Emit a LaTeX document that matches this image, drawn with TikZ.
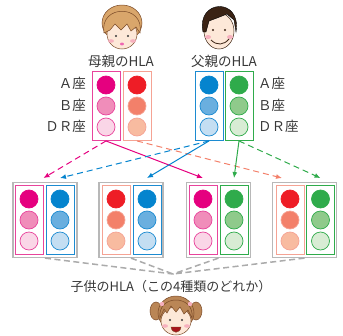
\documentclass[tikz,border=0pt]{standalone}
\usepackage{fontspec}
\setmainfont{Noto Sans CJK JP}
\usetikzlibrary{arrows.meta}

\definecolor{txt}{HTML}{383838}
\definecolor{pka}{HTML}{E5007F}
\definecolor{pkb}{HTML}{F08DBA}
\definecolor{pkdr}{HTML}{FAD6E7}
\definecolor{pkline}{HTML}{E8449C}
\definecolor{sma}{HTML}{EE1D26}
\definecolor{smb}{HTML}{F3806A}
\definecolor{smdr}{HTML}{F8BBA0}
\definecolor{smline}{HTML}{F5A394}
\definecolor{bua}{HTML}{0584CE}
\definecolor{bub}{HTML}{6AAFDF}
\definecolor{budr}{HTML}{C4DEF2}
\definecolor{buline}{HTML}{1C8BD1}
\definecolor{gra}{HTML}{2FAB4B}
\definecolor{grb}{HTML}{8FCA8B}
\definecolor{grdr}{HTML}{D8ECD4}
\definecolor{grline}{HTML}{2FAB4B}
\definecolor{skin}{HTML}{FDE8D8}
\definecolor{edge}{HTML}{7A4A28}
\definecolor{hairmom}{HTML}{D9A66B}
\definecolor{hairdad}{HTML}{3B2314}
\definecolor{hairkid}{HTML}{BA8656}
\definecolor{cheek}{HTML}{F6B0BE}

% one column of alleles: name, x, y, frame colour, colour prefix
\newcommand{\hlacol}[5]{%
	\node[col, draw=#4] (#1) at (#2,#3) {};
	\node[dot, fill=#5a, draw=#5a] (#1-a) at (#2,#3-21) {};
	\node[dot, fill=#5b, draw=#5line] (#1-b) at (#2,#3) {};
	\node[dot, fill=#5dr, draw=#5line] (#1-dr) at (#2,#3+21) {};
}

\begin{document}
\begin{tikzpicture}[x=1pt, y=-1pt,
		col/.style = {rectangle, line width=0.9pt, minimum width=28pt, minimum height=69pt, inner sep=0pt},
		dot/.style = {circle, line width=0.7pt, minimum size=18pt, inner sep=0pt},
		pair/.style = {rectangle, draw=black!28, line width=1.2pt, minimum width=64pt, minimum height=75pt},
		lbl/.style = {text=txt, font=\fontsize{13.5}{15}\selectfont, inner sep=0pt},
		arr/.style = {line width=1pt, -{Latex[length=6pt, width=5pt]}},
		dsh/.style = {dash pattern=on 6pt off 4pt},
		link/.style = {draw=black!33, line width=1.5pt, dash pattern=on 6pt off 3.5pt}]
	\useasboundingbox (0,0) rectangle (343,335);

	% mother
	\filldraw[fill=hairmom, draw=edge, line width=0.5pt] (122,23) ellipse (20 and 18);
	\filldraw[fill=skin, draw=edge, line width=0.5pt] (122,34) ellipse (15 and 15);
	\filldraw[fill=hairmom, draw=edge, line width=0.5pt] (104,33) .. controls (99,4) and (145,4) .. (140,33)
		-- (136,27) -- (131,31) -- (127,24) -- (121,30) -- (115,24) -- (110,30) -- cycle;
	\fill[txt] (116,36) circle (1.1) (128,36) circle (1.1);
	\fill[cheek] (111,41) ellipse (3 and 1.8) (133,41) ellipse (3 and 1.8);
	\fill[pka!60] (122,44) ellipse (2 and 1.4);

	% father
	\filldraw[fill=skin, draw=hairdad, line width=0.5pt] (219,31) ellipse (15 and 18);
	\filldraw[fill=hairdad] (203,32) .. controls (196,-1) and (242,-3) .. (236,32)
		-- (234,20) -- (227,14) -- (217,18) -- (209,21) -- (206,32) -- cycle;
	\fill[hairdad] (213,30) circle (1.1) (225,30) circle (1.1);
	\fill[cheek] (208,37) ellipse (3 and 2) (230,37) ellipse (3 and 2);
	\draw[hairdad, line width=0.8pt] (211,40) .. controls (217,46) and (224,45) .. (229,39);

	% allele columns of the parents
	\hlacol{m1}{106}{106}{pkline}{pk}
	\hlacol{m2}{137}{106}{smline}{sm}
	\hlacol{f1}{209}{106}{buline}{bu}
	\hlacol{f2}{239}{106}{grline}{gr}

	\node[lbl] (mom) at (121,61) {母親のHLA};
	\node[lbl] (dad) at (224,61) {父親のHLA};
	\node[lbl, anchor=east] (la) at (86,83) {Ａ座};
	\node[lbl, anchor=east] (lb) at (86,105) {Ｂ座};
	\node[lbl, anchor=east] (ldr) at (86,126) {ＤＲ座};
	\node[lbl, anchor=west] (ra) at (258,83) {Ａ座};
	\node[lbl, anchor=west] (rb) at (258,105) {Ｂ座};
	\node[lbl, anchor=west] (rdr) at (258,126) {ＤＲ座};

	% the four children
	\node[pair] (c1) at (45,220) {};
	\node[pair] (c2) at (131,220) {};
	\node[pair] (c3) at (218.5,220) {};
	\node[pair] (c4) at (304.5,220) {};
	\hlacol{c1m}{29}{220}{pkline}{pk}
	\hlacol{c1f}{60}{220}{buline}{bu}
	\hlacol{c2m}{116}{220}{smline}{sm}
	\hlacol{c2f}{147}{220}{buline}{bu}
	\hlacol{c3m}{203}{220}{pkline}{pk}
	\hlacol{c3f}{234}{220}{grline}{gr}
	\hlacol{c4m}{290}{220}{smline}{sm}
	\hlacol{c4f}{320.5}{220}{grline}{gr}

	\draw[arr, dsh, pka] (m1.south) to ([yshift=7pt]c1m.north east);
	\draw[arr, pka] (m1.south) to ([yshift=7pt]c3m.north);
	\draw[arr, dsh, smb] (m2.south) to ([xshift=-8pt, yshift=7pt]c4m.north);
	\draw[arr, dsh, bua] (f1.south) to ([yshift=7pt]c1f.north);
	\draw[arr, bua] (f1.south) to ([yshift=7pt]c2f.north);
	\draw[arr, gra] (f2.south) to ([yshift=7pt]c3f.north);
	\draw[arr, dsh, gra] (f2.south) to ([yshift=7pt]c4f.north);

	\coordinate (join) at (173,274);
	\draw[link] (c1.south) to (join)
		(c2.south) to (join)
		(c3.south) to (join)
		(c4.south) to (join);
	\node[lbl, font=\fontsize{13}{15}\selectfont] (kid) at (171,287) {子供のHLA（この4種類のどれか）};

	% child
	\filldraw[fill=hairkid, draw=edge, line width=0.5pt] (156,311) ellipse (6 and 9) (196,311) ellipse (6 and 9);
	\filldraw[fill=hairkid, draw=edge, line width=0.5pt] (176,313) ellipse (18 and 17);
	\filldraw[fill=skin, draw=edge, line width=0.5pt] (176,321) ellipse (15 and 14);
	\filldraw[fill=hairkid, draw=edge, line width=0.5pt] (160,318) .. controls (157,294) and (195,294) .. (192,318)
		-- (188,310) -- (184,314) -- (180,307) -- (176,312) -- (171,306) -- (167,313) -- (164,309) -- cycle;
	\fill[cheek] (162,304) circle (2.2) (190,304) circle (2.2);
	\fill[txt] (170,320) circle (1.1) (182,320) circle (1.1);
	\fill[cheek] (165,326) ellipse (3 and 1.8) (187,326) ellipse (3 and 1.8);
	\filldraw[fill=sma!70!black, draw=edge, line width=0.4pt] (171,327) .. controls (172,334) and (180,334) .. (181,327) -- cycle;
\end{tikzpicture}
\end{document}
